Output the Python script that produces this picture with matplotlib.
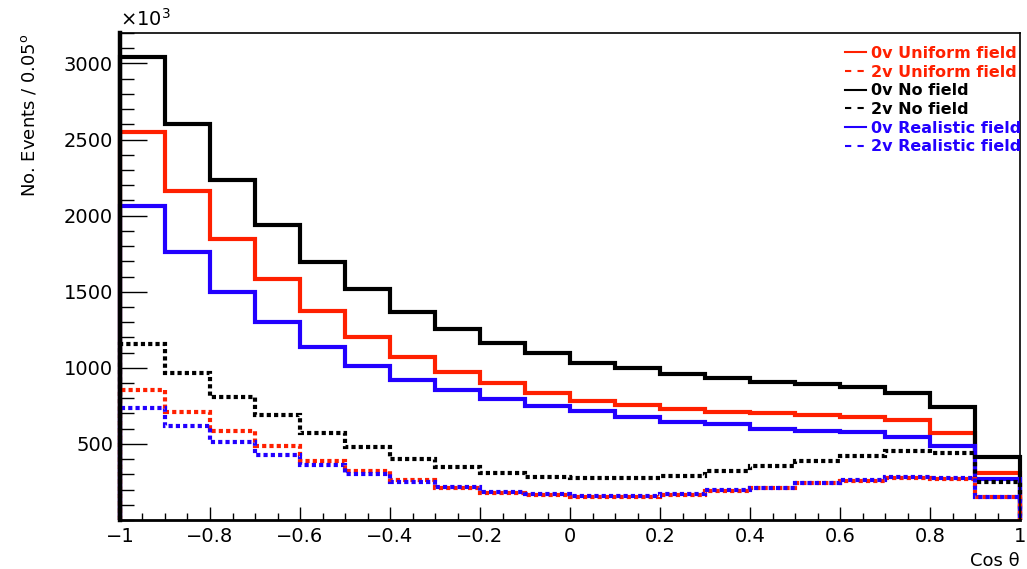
import numpy as np
import matplotlib.pyplot as plt
from matplotlib.lines import Line2D
from matplotlib.ticker import MultipleLocator

plt.rcParams['font.family'] = ['DejaVu Sans']
plt.rcParams['mathtext.default'] = 'regular'

# bin edges of cos(theta), 20 bins
edges = np.linspace(-1, 1, 21)

# counts per bin, in units of 10^3
nofield_0v = [3044, 2605, 2231, 1936, 1694, 1517, 1368, 1255, 1165, 1098,
              1034, 999, 960, 934, 910, 894, 875, 837, 744, 416]
nofield_2v = [1155, 969, 811, 687, 571, 477, 401, 349, 309, 280,
              274, 274, 292, 320, 353, 385, 423, 451, 440, 250]
uniform_0v = [2548, 2159, 1845, 1583, 1373, 1204, 1073, 973, 901, 837,
              785, 757, 731, 711, 701, 687, 678, 654, 573, 311]
uniform_2v = [855, 709, 582, 484, 390, 324, 265, 211, 180, 165,
              154, 154, 165, 192, 208, 242, 259, 278, 272, 152]
realistic_0v = [2063, 1761, 1499, 1303, 1135, 1014, 921, 855, 796, 746,
                713, 680, 644, 630, 600, 582, 575, 545, 484, 270]
realistic_2v = [735, 615, 510, 429, 359, 303, 250, 218, 184, 168,
                158, 158, 168, 196, 212, 245, 262, 281, 275, 154]

red = '#ff2000'
blue = '#2200ff'
black = '#000000'
dot = (0, (1.0, 0.75))

fig = plt.figure(figsize=(10.27, 5.69), dpi=100)
ax = fig.add_axes([120/1027, 1 - 520/569, 900/1027, 487/569])

lw = 3
ax.stairs(uniform_0v, edges, color=red, lw=lw, clip_on=False)
ax.stairs(nofield_0v, edges, color=black, lw=lw, clip_on=False)
ax.stairs(realistic_0v, edges, color=blue, lw=lw, clip_on=False)
ax.stairs(nofield_2v, edges, color=black, lw=lw, ls=dot, clip_on=False)
ax.stairs(uniform_2v, edges, color=red, lw=lw, ls=dot, clip_on=False)
ax.stairs(realistic_2v, edges, color=blue, lw=lw, ls=(0.9, (1.0, 0.75)), clip_on=False)

ax.set_xlim(-1, 1)
ax.set_ylim(0, 3200)

ax.xaxis.set_major_locator(MultipleLocator(0.2))
ax.xaxis.set_minor_locator(MultipleLocator(0.05))
ax.set_yticks([500, 1000, 1500, 2000, 2500, 3000])
ax.yaxis.set_minor_locator(MultipleLocator(100))
ax.tick_params(axis='x', which='major', direction='in', length=9.5, width=1, labelsize=14, pad=5)
ax.tick_params(axis='x', which='minor', direction='in', length=4.7, width=1)
ax.tick_params(axis='y', which='major', direction='in', length=19.5, width=1, labelsize=14, pad=5)
ax.tick_params(axis='y', which='minor', direction='in', length=10, width=1)


def xfmt(v, pos):
    v = round(v, 2)
    if v == 0:
        return '0'
    return ('\u2212' if v < 0 else '') + f'{abs(v):g}'


ax.xaxis.set_major_formatter(plt.FuncFormatter(xfmt))

ax.spines['left'].set_linewidth(3.2)
ax.spines['left'].set_zorder(10)
ax.spines['bottom'].set_linewidth(2)
ax.spines['bottom'].set_zorder(10)
ax.spines['top'].set_linewidth(1.2)
ax.spines['right'].set_linewidth(1.2)

ax.set_ylabel('No. Events / 0.05$^{o}$', fontsize=13, loc='top', labelpad=18)
ax.set_xlabel('Cos \u03b8', fontsize=13, loc='right', labelpad=4)
fig.text(120/1027, 1 - 30/569, '\u00d710$^{3}$', fontsize=14, ha='left', va='bottom')

handles = [
    Line2D([], [], color=red, lw=1.5),
    Line2D([], [], color=red, lw=1.5, ls=(0, (3, 3))),
    Line2D([], [], color=black, lw=1.5),
    Line2D([], [], color=black, lw=1.5, ls=(0, (3, 3))),
    Line2D([], [], color=blue, lw=1.5),
    Line2D([], [], color=blue, lw=1.5, ls=(0, (3, 3))),
]
labels = ['0v Uniform field', '2v Uniform field', '0v No field',
          '2v No field', '0v Realistic field', '2v Realistic field']
leg = fig.legend(handles, labels, loc='upper left',
                 bbox_to_anchor=(845/1027, 1 - 46/569), frameon=False,
                 prop={'size': 11.5, 'weight': 'bold'}, handlelength=1.3,
                 handletextpad=0.35, labelspacing=0.23, borderpad=0,
                 borderaxespad=0, labelcolor='linecolor')

fig.savefig('out.png', dpi=100)
